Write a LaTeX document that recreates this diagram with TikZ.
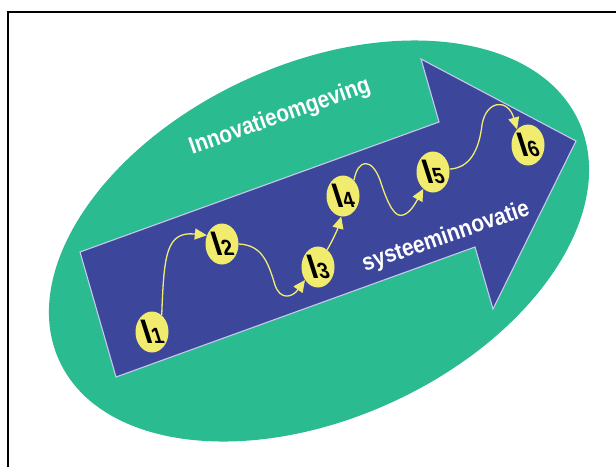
\documentclass[tikz,border=0pt]{standalone}
\usepackage{fontspec}
\setmainfont{Liberation Sans}
\usetikzlibrary{shapes.geometric,arrows.meta}
\definecolor{envgreen}{RGB}{42,187,145}
\definecolor{arrowblue}{RGB}{60,71,156}
\definecolor{edgelav}{RGB}{200,200,236}
\definecolor{nodeyellow}{RGB}{242,236,110}
\tikzset{
  inode/.style={ellipse, fill=nodeyellow, draw=none, minimum width=33pt, minimum height=41pt, inner sep=0pt},
  lbl/.style={font=\bfseries, text=black, inner sep=0pt, xslant=-0.32, xscale=0.9},
  bigtext/.style={font=\bfseries\fontsize{24}{24}\selectfont, text=white, inner sep=0pt},
  conn/.style={draw=nodeyellow, line width=1.3pt, -{Triangle[length=12pt,width=11pt]}},
}
\newcommand{\lab}[1]{{\fontsize{34}{34}\selectfont I}{\fontsize{22}{22}\selectfont #1}}
\begin{document}
\begin{tikzpicture}[x=1pt,y=1pt]
\useasboundingbox (0,0) rectangle (616,-467);
\draw[line width=2pt, black] (8,-467) -- (8,-12) -- (616,-12);
% environment ellipse
\fill[envgreen, rotate around={24.8:(319,-241)}] (319,-241) ellipse [x radius=286pt, y radius=177pt];
% big arrow
\filldraw[fill=arrowblue, draw=edgelav, line width=1.1pt, line join=miter]
  (80,-252) -- (439,-122) -- (421,-59) -- (576,-141) -- (493,-309) -- (475,-247) -- (116,-377) -- cycle;
% texts
\node[bigtext, rotate=19.5, xscale=0.87] (env) at (280,-117) {Innovatieomgeving};
\node[bigtext, rotate=19, xscale=0.87] (sys) at (446,-237) {systeeminnovatie};
% innovation nodes
\node[inode] (n1) at (152,-332) {};
\node[inode] (n2) at (222,-244) {};
\node[inode] (n3) at (318,-267) {};
\node[inode] (n4) at (343,-196) {};
\node[inode] (n5) at (433,-172) {};
\node[inode] (n6) at (528,-145) {};
\node[lbl] (l1) at (n1) {\lab{1}};
\node[lbl] (l2) at (n2) {\lab{2}};
\node[lbl] (l3) at (n3) {\lab{3}};
\node[lbl] (l4) at (n4) {\lab{4}};
\node[lbl] (l5) at (n5) {\lab{5}};
\node[lbl] (l6) at (n6) {\lab{6}};
% connectors
\draw[conn] (n1.60) .. controls (164,-255) and (166,-231) .. (n2.150);
\draw[conn] (n2.east) .. controls (262,-245) and (268,-262) .. (275,-285) .. controls (280,-300) and (292,-298) .. (n3.225);
\draw[conn] (n3.62) .. controls (334,-238) and (338,-228) .. (n4.265);
\draw[conn] (n4.55) .. controls (358,-158) and (372,-158) .. (380,-180) .. controls (388,-205) and (395,-218) .. (403,-215) .. controls (410,-213) and (415,-204) .. (n5.240);
\draw[conn] (n5.10) .. controls (470,-168) and (479,-150) .. (482,-125) .. controls (486,-100) and (508,-98) .. (n6.125);
\end{tikzpicture}
\end{document}
